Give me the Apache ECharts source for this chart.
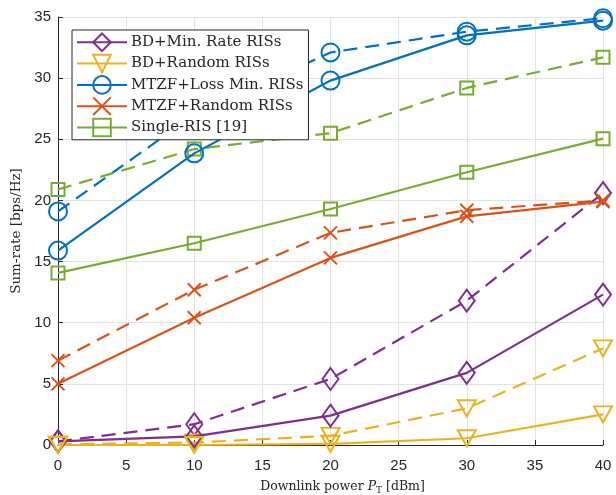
<!DOCTYPE html>
<html>
<head>
<meta charset="utf-8">
<script src="https://cdn.jsdelivr.net/npm/echarts@6/dist/echarts.min.js"></script>
<style>html,body{margin:0;padding:0;background:#fff;}#c{width:616px;height:495px;}</style>
</head>
<body>
<div id="c"></div>
<script>
// Data
const xValues = [0, 10, 20, 30, 40];
const xTicks = [0, 5, 10, 15, 20, 25, 30, 35, 40];
const yTicks = [0, 5, 10, 15, 20, 25, 30, 35];
const names = ['BD+Min. Rate RISs', 'BD+Random RISs', 'MTZF+Loss Min. RISs', 'MTZF+Random RISs', 'Single-RIS [19]'];
const bdMinSolid = [0.3, 0.7, 2.4, 5.9, 12.3];
const bdMinDashed = [0.3, 1.7, 5.4, 11.8, 20.6];
const bdRandSolid = [0.0, 0.0, 0.1, 0.55, 2.5];
const bdRandDashed = [0.05, 0.2, 0.75, 3.0, 7.9];
const mtzfLossSolid = [15.9, 23.85, 29.8, 33.5, 34.7];
const mtzfLossDashed = [19.1, 27.0, 32.1, 33.8, 34.9];
const mtzfRandSolid = [5.0, 10.4, 15.3, 18.7, 19.9];
const mtzfRandDashed = [6.9, 12.7, 17.35, 19.2, 20.0];
const singleSolid = [14.07, 16.5, 19.3, 22.3, 25.05];
const singleDashed = [20.9, 24.2, 25.5, 29.2, 31.7];

const colors = ['#7E2F8E', '#EDB120', '#0072BD', '#D95319', '#77AC30'];
const symbols = [
  'path://M0,-11L8,0L0,11L-8,0Z',
  'path://M-10,-8L10,-8L0,10Z',
  'circle',
  'path://M-7,-7L7,7M7,-7L-7,7',
  'rect'
];
const sizes = [[16, 22], [18, 16], 18, 13, 13];
const solids = [bdMinSolid, bdRandSolid, mtzfLossSolid, mtzfRandSolid, singleSolid];
const dashes = [bdMinDashed, bdRandDashed, mtzfLossDashed, mtzfRandDashed, singleDashed];

function mk(name, vals, i, dashed) {
  return {
    name: name,
    type: 'line',
    data: xValues.map((x, k) => [x, vals[k]]),
    symbol: symbols[i],
    symbolSize: sizes[i],
    showAllSymbol: true,
    clip: false,
    z: dashed ? 2 : 3,
    lineStyle: { color: colors[i], width: 2.2, type: dashed ? [14, 8] : 'solid' },
    itemStyle: { color: 'none', borderColor: colors[i], borderWidth: 2 },
    emphasis: { disabled: true },
    animation: false
  };
}

const series = [];
for (let i = 0; i < 5; i++) {
  series.push(mk(names[i] + ' (dashed)', dashes[i], i, true));
  series.push(mk(names[i], solids[i], i, false));
}

const serif = 'DejaVu Serif';
const chart = echarts.init(document.getElementById('c'), null, { renderer: 'canvas' });
chart.setOption({
  backgroundColor: '#fff',
  animation: false,
  grid: { left: 58, right: 13, top: 17, bottom: 50, containLabel: false, outerBoundsMode: 'none' },
  legend: {
    data: names,
    orient: 'vertical',
    left: 72, top: 30,
    itemWidth: 50, itemHeight: 22, itemGap: -1.3,
    padding: [1, 5, 1, 4],
    backgroundColor: '#fff',
    borderColor: '#262626', borderWidth: 1,
    textStyle: { fontFamily: serif, fontSize: 15, color: '#262626', padding: [0, 0, 0, -1] },
    selectedMode: false
  },
  xAxis: {
    type: 'value', min: 0, max: 40, interval: 5,
    name: '{a|Downlink power }{i|P}{s|T}{a| [dBm]}',
    nameLocation: 'middle', nameGap: 34,
    nameTextStyle: {
      padding: [0, 0, 0, 24],
      rich: {
        a: { fontFamily: serif, fontSize: 12.5, color: '#262626' },
        i: { fontFamily: serif, fontSize: 12.5, fontStyle: 'italic', color: '#262626' },
        s: { fontFamily: serif, fontSize: 9, color: '#262626', padding: [7, 0, 0, 0] }
      }
    },
    axisLine: { show: true, onZero: false, lineStyle: { color: '#262626', width: 1 } },
    axisTick: { show: true, inside: true, length: 5, lineStyle: { color: '#262626' } },
    axisLabel: { fontFamily: 'Liberation Sans', fontSize: 15, color: '#262626', margin: 13,
      formatter: v => xTicks.includes(v) ? String(v) : '' },
    splitLine: { show: true, lineStyle: { color: '#e3e3e3', width: 1 } }
  },
  yAxis: {
    type: 'value', min: 0, max: 35, interval: 5,
    name: 'Sum-rate [bps/Hz]',
    nameLocation: 'middle', nameGap: 25,
    nameTextStyle: { fontFamily: serif, fontSize: 13.5, color: '#262626' },
    axisLine: { show: true, onZero: false, lineStyle: { color: '#262626', width: 1 } },
    axisTick: { show: true, inside: true, length: 5, lineStyle: { color: '#262626' } },
    axisLabel: { fontFamily: 'Liberation Sans', fontSize: 15, color: '#262626', margin: 7,
      formatter: v => yTicks.includes(v) ? String(v) : '' },
    splitLine: { show: true, lineStyle: { color: '#e3e3e3', width: 1 } }
  },
  series: series
});
</script>
</body>
</html>
